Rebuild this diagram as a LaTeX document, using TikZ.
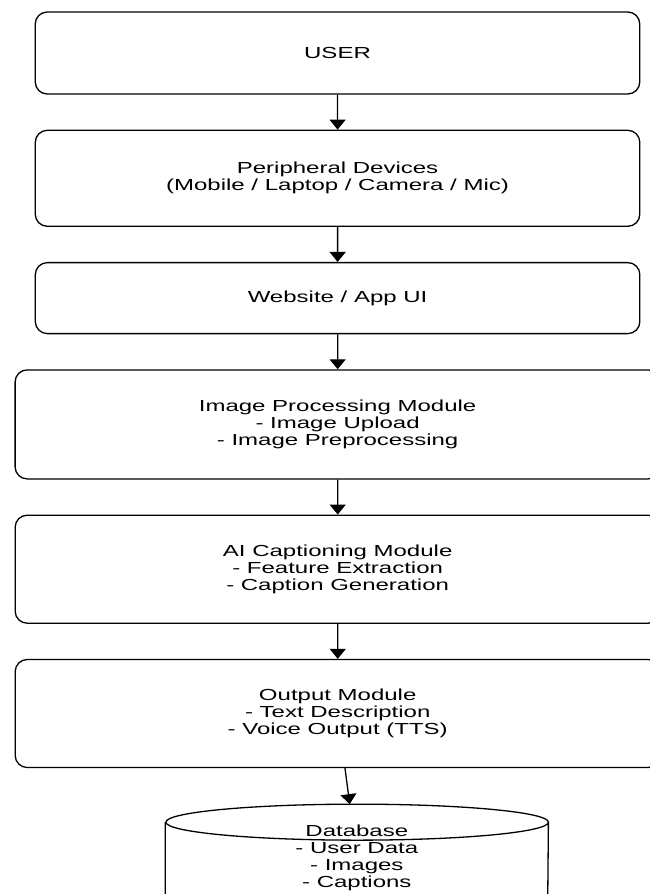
\documentclass[tikz,border=0pt]{standalone}
\usepackage{fontspec}
\setmainfont{Liberation Sans}
\usetikzlibrary{shapes.geometric, arrows.meta, positioning}

\begin{document}
\begin{tikzpicture}[x=1pt, y=1pt, xscale=1.5, node distance=35pt, every node/.append style={transform shape}]
    % Define styles
    \tikzstyle{block} = [rectangle, rounded corners=12pt, minimum width=403pt, text centered, align=center, draw=black, line width=1.3pt, font=\fontsize{16}{17}\selectfont]
    \tikzstyle{wideblock} = [block, minimum width=430pt]
    \tikzstyle{store} = [rectangle, minimum width=255pt, minimum height=108pt, text centered, align=center, font=\fontsize{16}{17}\selectfont]
    \tikzstyle{storeline} = [draw=black, line width=1.3pt]
    \tikzstyle{arrow} = [line width=1.3pt, -{Triangle[length=10pt, width=16pt]}]

    \useasboundingbox (0,0) rectangle (432.67,-894);

    % Nodes
    \node (user) [block, minimum height=82pt] at (225,-53) {USER};
    \node (periph) [block, minimum height=96pt, below=of user] {Peripheral Devices\\(Mobile / Laptop / Camera / Mic)};
    \node (web) [block, minimum height=71pt, below=of periph] {Website / App UI};
    \node (imgproc) [wideblock, minimum height=109pt, below=of web] {Image Processing Module\\- Image Upload\\- Image Preprocessing};
    \node (caption) [wideblock, minimum height=108pt, below=of imgproc] {AI Captioning Module\\- Feature Extraction\\- Caption Generation};
    \node (output) [wideblock, minimum height=108pt, below=of caption] {Output Module\\- Text Description\\- Voice Output (TTS)};
    \node (db) [store, below=36pt of output, xshift=12.7pt] {Database\\- User Data\\- Images\\- Captions};

    % Database cylinder
    \draw [storeline] ([yshift=-18pt]db.north west) -- ([yshift=18pt]db.south west)
        arc[start angle=180, end angle=360, x radius=127.5, y radius=18]
        -- ([yshift=-18pt]db.north east)
        arc[start angle=0, end angle=180, x radius=127.5, y radius=18]
        arc[start angle=180, end angle=360, x radius=127.5, y radius=18];

    % Arrows
    \draw [arrow] (user) -- (periph);
    \draw [arrow] (periph) -- (web);
    \draw [arrow] (web) -- (imgproc);
    \draw [arrow] (imgproc) -- (caption);
    \draw [arrow] (caption) -- (output);
    \draw [arrow] (output) -- (db);
\end{tikzpicture}
\end{document}
